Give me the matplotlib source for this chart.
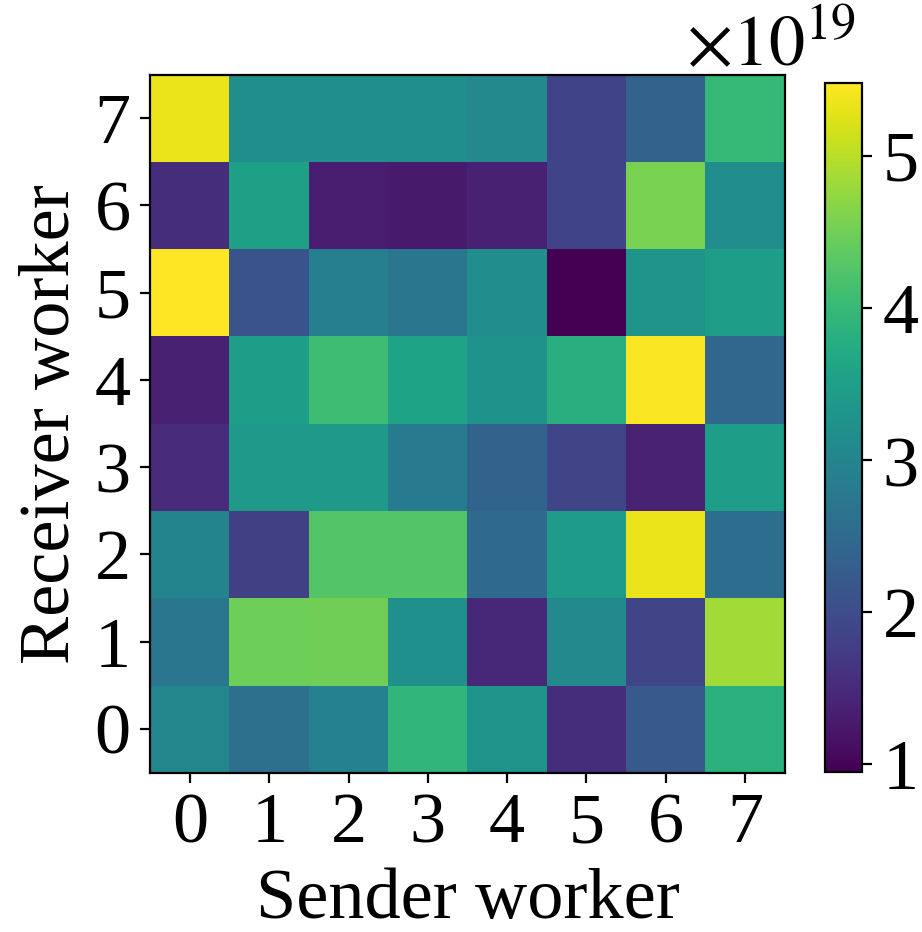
import numpy as np
import matplotlib
matplotlib.use("Agg")
import matplotlib.pyplot as plt
from matplotlib.ticker import ScalarFormatter

plt.rcParams["font.family"] = ["Liberation Serif", "DejaVu Serif"]
plt.rcParams["mathtext.fontset"] = "stix"
plt.rcParams["font.size"] = 26

workers = list(range(8))
scale = 1e19
cbar_ticks = [1, 2, 3, 4, 5]

# Traffic volume (units of 1e19) per receiver row (0..7) and sender column (0..7)
row0 = [3.03, 2.63, 2.94, 3.94, 3.30, 1.54, 2.22, 3.85]
row1 = [2.72, 4.48, 4.50, 3.22, 1.45, 3.08, 1.90, 4.85]
row2 = [2.99, 1.81, 4.26, 4.26, 2.49, 3.44, 5.34, 2.58]
row3 = [1.50, 3.40, 3.40, 2.81, 2.40, 1.90, 1.40, 3.49]
row4 = [1.36, 3.49, 4.08, 3.58, 3.26, 3.80, 5.45, 2.44]
row5 = [5.48, 2.13, 2.90, 2.72, 3.17, 0.95, 3.30, 3.49]
row6 = [1.54, 3.53, 1.31, 1.27, 1.36, 1.86, 4.57, 3.17]
row7 = [5.34, 3.20, 3.20, 3.20, 3.08, 1.86, 2.40, 3.98]

matrix = np.array([row0, row1, row2, row3, row4, row5, row6, row7]) * scale

fig = plt.figure(figsize=(4.61, 4.66), dpi=200)
ax = fig.add_axes([0.163, 0.171, 0.688, 0.749])
cax = fig.add_axes([0.895, 0.172, 0.040, 0.739])

im = ax.imshow(matrix, cmap="viridis", origin="lower", aspect="auto")
ax.set_xticks(workers)
ax.set_yticks(workers)
ax.set_xlabel("Sender worker")
ax.set_ylabel("Receiver worker")

fmt = ScalarFormatter(useMathText=True)
cb = fig.colorbar(im, cax=cax, format=fmt)
cb.set_ticks([t * scale for t in cbar_ticks])

# Place the exponent label slightly above the colorbar
cax.yaxis.get_offset_text().set_visible(False)
fig.text(0.928, 0.914, r"$\times10^{19}$", ha="right", va="bottom")

fig.savefig("out.png", dpi=200)
